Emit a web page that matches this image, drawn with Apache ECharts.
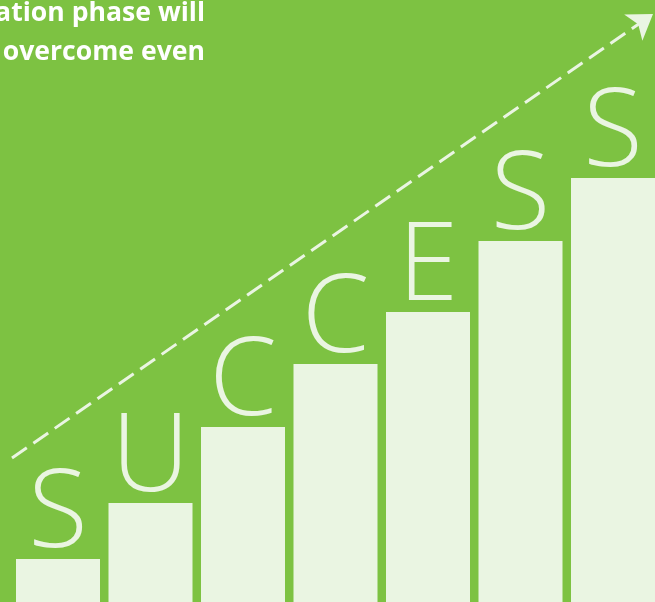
<!DOCTYPE html>
<html>
<head>
<meta charset="utf-8">
<script src="https://cdn.jsdelivr.net/npm/echarts@6/dist/echarts.min.js"></script>
<style>html,body{margin:0;padding:0;background:#7DC242;}#c{width:655px;height:602px;}</style>
</head>
<body>
<div id="c"></div>
<script>
const categories = ['S', 'U', 'C', 'C', 'E', 'S', 'S'];
const barValues = [43, 99, 175, 238, 290, 361, 424];
const titleLines = ['ation phase will', 'overcome even'];
const arrowPath = [[12, 144], [653, 588]];

const chart = echarts.init(document.getElementById('c'), null, {renderer: 'canvas'});
chart.setOption({
  backgroundColor: '#7DC242',
  animation: false,
  title: {
    text: titleLines.join('\n'),
    left: 205,
    top: -6,
    padding: 0,
    textAlign: 'right',
    textStyle: {color: '#FFFFFF', fontFamily: 'Open Sans', fontWeight: 'bold', fontSize: 26.6, lineHeight: 39, align: 'right'}
  },
  grid: [
    {left: 58, right: 42, top: 0, bottom: 0, containLabel: false},
    {left: 0, top: 0, width: 655, height: 602}
  ],
  xAxis: [
    {type: 'category', data: categories, gridIndex: 0, show: false, boundaryGap: false},
    {type: 'value', gridIndex: 1, min: 0, max: 655, show: false}
  ],
  yAxis: [
    {type: 'value', gridIndex: 0, min: 0, max: 602, show: false},
    {type: 'value', gridIndex: 1, min: 0, max: 602, show: false}
  ],
  series: [
    {
      type: 'bar',
      xAxisIndex: 0, yAxisIndex: 0,
      data: barValues,
      barWidth: 84,
      clip: false,
      itemStyle: {color: '#EAF5E2'},
      label: {
        show: true,
        position: 'top',
        distance: -11,
        formatter: p => categories[p.dataIndex],
        color: '#EAF5E2',
        fontFamily: 'Open Sans',
        fontWeight: 300,
        fontSize: 109
      }
    },
    {
      type: 'lines',
      coordinateSystem: 'cartesian2d',
      xAxisIndex: 1, yAxisIndex: 1,
      symbol: ['none', 'arrow'],
      symbolSize: [20, 24],
      lineStyle: {color: '#EAF5E2', width: 3, type: [18, 8], opacity: 1},
      data: [{coords: arrowPath}]
    }
  ]
});
</script>
</body>
</html>
